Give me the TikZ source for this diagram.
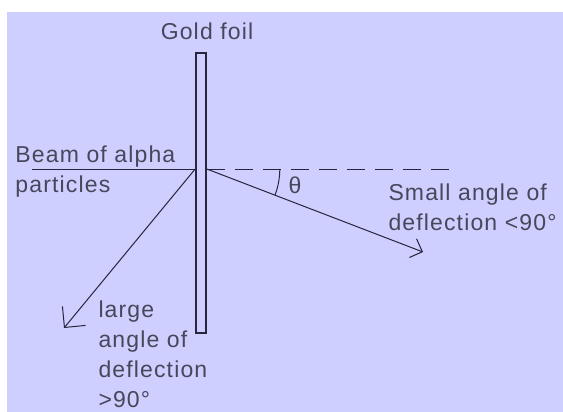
\documentclass[tikz,border=0pt]{standalone}
\usepackage{fontspec}
\setmainfont{Liberation Sans}[LetterSpace=5]
\usepackage{xcolor}
\usepackage{tikz}
\usetikzlibrary{arrows.meta}

\definecolor{bgblue}{RGB}{206,206,255}
\definecolor{inkdark}{RGB}{38,38,62}

\begin{document}
\begin{tikzpicture}[x=1pt, y=-1pt, font=\fontsize{23}{30}\selectfont,
    inkdark, line width=1pt,
    lbl/.style={inner sep=0pt, align=left, text=inkdark!85!white},
    smallbarb/.style={-{Straight Barb[length=10pt, width=20pt]}},
    largebarb/.style={-{Straight Barb[length=15pt, width=30pt]}}]
  \useasboundingbox (0,0) rectangle (563,412);
  \fill[bgblue] (7,12) rectangle (563,412);
  % foil
  \node[draw, line width=1.6pt, minimum width=10pt, minimum height=280pt,
        inner sep=0pt] (foil) at (201,193) {};
  \node[lbl, anchor=base] (goldlabel) at (207,40) {Gold foil};
  % incoming beam
  \coordinate (beamstart) at (32,169);
  \coordinate (entry) at (foil.west |- beamstart);
  \coordinate (exit) at (foil.east |- beamstart);
  \draw (beamstart) -- (entry);
  \node[lbl, anchor=base west] (beamlabel) at (15,193) {Beam of alpha\\particles};
  % undeflected direction
  \coordinate (dashend) at (457,169);
  \draw[dash pattern=on 18pt off 10pt] (exit) -- (dashend);
  % small deflection
  \coordinate (smalltip) at (423,252);
  \draw[smallbarb] (exit) -- (smalltip);
  \draw ([xshift=73pt]exit) arc[start angle=0, end angle=-21, radius=73pt];
  \node[lbl] (thetalabel) at (295,185) {θ};
  \node[lbl, anchor=base west] (smalllabel) at (388,230) {Small angle of\\deflection <90°};
  % large deflection
  \coordinate (largetip) at (64,328);
  \draw[largebarb] (entry) -- (largetip);
  \node[lbl, anchor=base west] (largelabel) at (98,407) {large\\angle of\\deflection\\>90°};
\end{tikzpicture}
\end{document}
